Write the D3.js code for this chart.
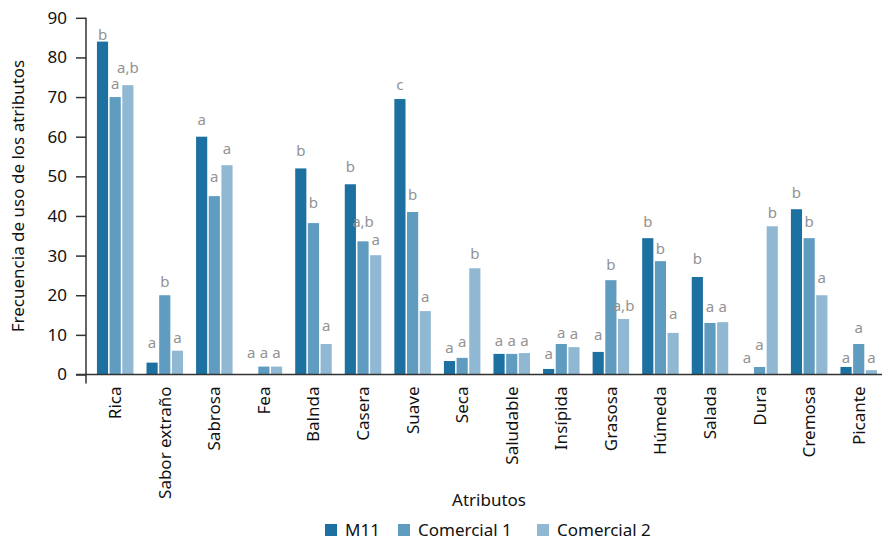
<!DOCTYPE html>
<html><head><meta charset="utf-8">
<script src="https://cdn.jsdelivr.net/npm/d3@7"></script>
<style>body{margin:0;background:#fff;} text{font-family:"Noto Sans","Open Sans",sans-serif;}</style>
</head><body><svg id="c" width="893" height="540"></svg>
<script>
const categories = ["Rica","Sabor extraño","Sabrosa","Fea","Balnda","Casera","Suave","Seca","Saludable","Insípida","Grasosa","Húmeda","Salada","Dura","Cremosa","Picante"];
const seriesNames = ["M11","Comercial 1","Comercial 2"];
const m11 = [84,3,60,0,52,48,69.5,3.4,5.2,1.4,5.7,34.4,24.6,0,41.7,1.9];
const comercial1 = [70,20,45,2,38.2,33.6,41,4.2,5.2,7.7,23.8,28.6,13,1.9,34.4,7.7];
const comercial2 = [73,6,52.8,2,7.7,30.1,16,26.8,5.4,6.9,14,10.5,13.2,37.4,20,1.1];
const lettersM11 = ["b","a","a","a","b","b","c","a","a","a","a","b","b","a","b","a"];
const lettersC1 = ["a","b","a","a","b","a,b","b","a","a","a","b","b","a","a","b","a"];
const lettersC2 = ["a,b","a","a","a","a","a","a","b","a","a","a,b","a","a","b","a","a"];
// heights (in y units) at which the significance letters sit
const letterAtM11 = [84.3,6.7,62.9,4.2,55.2,51.2,71.7,5.4,7.3,3.9,8.7,37.2,27.9,2.9,44.5,2.9];
const letterAtC1 = [72,22,48.5,4.2,42,37.3,44,7,7.3,9.2,26.3,30.4,15.8,6.2,37.2,10.4];
const letterAtC2 = [76,8,55.6,4.2,11,32.7,18.3,29.1,7.3,9,16,14,15.8,39.4,23,2.9];
const yTicks = [0,10,20,30,40,50,60,70,80,90];
const colors = ["#1d71a1","#5f9cc0","#90b8d3"];
</script>
<script>
const series=[m11,comercial1,comercial2];
const letters=[lettersM11,lettersC1,lettersC2];
const letterAt=[letterAtM11,letterAtC1,letterAtC2];
const svg=d3.select("#c");
const axisX=86, y0=374.5;
const x=d3.scaleBand().domain(categories).range([90.4,883.5]).paddingInner(0).paddingOuter(0);
const xs=d3.scaleBand().domain([0,1,2]).range([0,36.5]).paddingInner(0.12);
const y=d3.scaleLinear().domain([0,90]).range([y0,17.8]);

categories.forEach((c,i)=>{
  const gx=x(c)+x.bandwidth()/2-18.25;
  series.forEach((s,k)=>{
    const v=s[i];
    if(v>0){
      svg.append("rect").attr("x",gx+xs(k)).attr("y",y(v)).attr("width",xs.bandwidth()).attr("height",y0-y(v)).attr("fill",colors[k]);
    }
    svg.append("text").attr("x",gx+xs(k)+xs.bandwidth()/2).attr("y",y(letterAt[k][i]))
      .attr("text-anchor","middle").attr("font-size",15).attr("fill","#939393").text(letters[k][i]);
  });
});

// y axis
const ya=svg.append("g").attr("transform",`translate(${axisX},0)`)
  .call(d3.axisLeft(y).tickValues(yTicks).tickSize(10).tickPadding(9));
ya.select(".domain").attr("d",`M0,${y(90)}V${y0+9}`).attr("stroke","#333").attr("stroke-width",1.5);
ya.selectAll(".tick line").attr("stroke","#333").attr("stroke-width",1.5);
ya.selectAll(".tick text").attr("font-size",17).attr("fill","#111").attr("font-family","Noto Sans, Open Sans, sans-serif");

// x axis
const xa=svg.append("g").attr("transform",`translate(0,${y0})`).call(d3.axisBottom(x).tickSize(0).tickPadding(0));
xa.select(".domain").attr("d",`M${axisX-10},0H882`).attr("stroke","#333").attr("stroke-width",1.5);
xa.selectAll(".tick text").attr("font-size",17).attr("fill","#111").attr("font-family","Noto Sans, Open Sans, sans-serif")
  .attr("transform","rotate(-90)").attr("text-anchor","end").attr("dy","0.35em").attr("x",-12).attr("y",0);

// titles
svg.append("text").attr("transform",`translate(24,${196}) rotate(-90)`).attr("text-anchor","middle")
  .attr("font-size",17).attr("fill","#111").text("Frecuencia de uso de los atributos");
svg.append("text").attr("x",489).attr("y",506).attr("text-anchor","middle").attr("font-size",17).attr("fill","#111").text("Atributos");

// legend
const legX=[325,398,537];
seriesNames.forEach((n,k)=>{
  svg.append("rect").attr("x",legX[k]).attr("y",524).attr("width",12).attr("height",12).attr("fill",colors[k]);
  svg.append("text").attr("x",legX[k]+20).attr("y",536).attr("font-size",17).attr("fill","#111").text(n);
});
</script>
</body></html>
